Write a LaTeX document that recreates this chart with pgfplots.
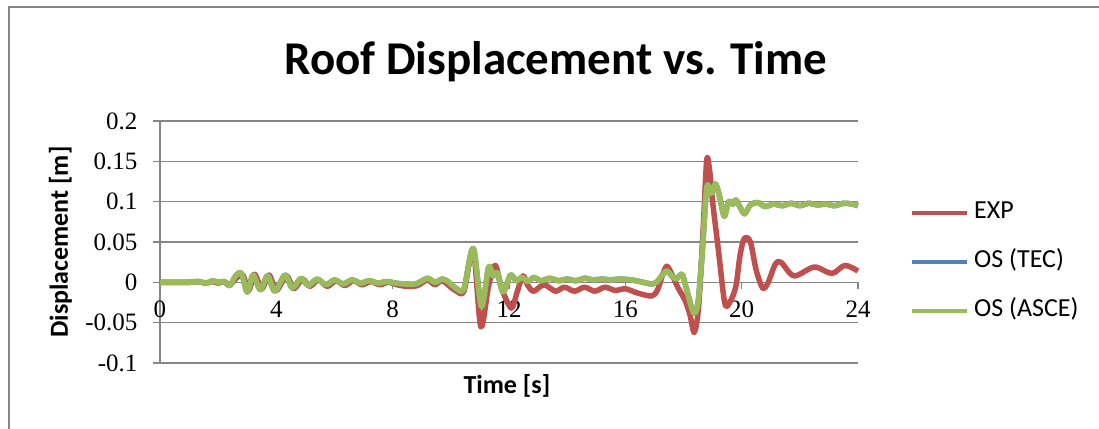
\documentclass[border=0pt]{standalone}
\usepackage{pgfplots}
\pgfplotsset{compat=1.18}
\usepackage{pgfplotstable}
\usepackage{fontspec}
\setmainfont{Carlito}
\newfontfamily\timesfont{Liberation Serif}
\definecolor{expc}{RGB}{192,80,77}
\definecolor{tecc}{RGB}{79,129,189}
\definecolor{ascec}{RGB}{155,187,89}
\definecolor{axisgray}{RGB}{134,134,134}

\pgfplotstableread{
t v
0 0
0.5 0
1.0 0
1.3 0.001
1.6 -0.001
1.8 0.001
2.0 -0.001
2.2 0.001
2.4 -0.003
2.65 0.006
2.85 0.009
3.05 -0.010
3.25 0.010
3.5 -0.008
3.75 0.009
4.0 -0.010
4.35 0.008
4.6 -0.008
4.9 0.004
5.15 -0.005
5.45 0.003
5.75 -0.005
6.05 0.002
6.35 -0.004
6.65 0.002
6.95 -0.003
7.25 0.001
7.55 -0.003
7.85 0.000
8.15 -0.003
8.5 -0.005
8.85 -0.004
9.2 0.003
9.45 -0.003
9.7 0.002
10.0 -0.006
10.2 -0.011
10.45 -0.011
10.77 0.040
11.03 -0.055
11.3 -0.004
11.53 0.021
11.75 -0.008
12.08 -0.032
12.28 -0.012
12.48 0.008
12.65 -0.004
12.85 -0.011
13.2 -0.003
13.6 -0.011
13.9 -0.006
14.25 -0.011
14.6 -0.006
14.95 -0.011
15.3 -0.006
15.65 -0.010
16.0 -0.008
16.4 -0.013
16.9 -0.017
17.1 -0.010
17.25 0.006
17.42 0.020
17.6 0.010
17.8 -0.006
18.05 -0.022
18.22 -0.040
18.37 -0.062
18.52 -0.030
18.68 0.070
18.8 0.152
18.9 0.138
19.0 0.100
19.2 0.040
19.42 -0.026
19.6 -0.024
19.8 -0.005
19.95 0.035
20.1 0.055
20.3 0.050
20.5 0.015
20.72 -0.007
20.9 -0.001
21.15 0.022
21.35 0.025
21.8 0.008
22.5 0.019
23.1 0.011
23.55 0.021
24.0 0.014
}\expdata

\pgfplotstableread{
t v
0 0
0.5 0
1.0 0
1.3 0.001
1.6 -0.001
1.8 0.002
2.0 0
2.2 0.001
2.4 -0.004
2.6 0.008
2.8 0.011
3.0 -0.012
3.2 0.009
3.45 -0.009
3.7 0.008
3.95 -0.011
4.3 0.009
4.55 -0.007
4.85 0.005
5.1 -0.004
5.4 0.004
5.7 -0.003
6.0 0.003
6.3 -0.002
6.6 0.003
6.9 -0.001
7.2 0.002
7.5 -0.001
7.8 0.001
8.1 -0.001
8.4 -0.002
8.8 -0.002
9.2 0.005
9.45 0.000
9.7 0.004
9.9 0.001
10.2 -0.008
10.45 -0.008
10.77 0.042
11.05 -0.030
11.3 0.019
11.45 0.008
11.6 0.012
11.8 -0.012
12.05 0.009
12.25 0.002
12.45 0.006
12.65 0.001
12.85 0.006
13.1 0.002
13.4 0.005
13.7 0.002
14.0 0.004
14.3 0.002
14.6 0.005
14.9 0.003
15.2 0.004
15.5 0.003
15.8 0.004
16.2 0.003
16.5 0.001
16.9 -0.002
17.1 0.001
17.4 0.014
17.6 0.008
17.75 0.004
17.95 0.010
18.1 -0.008
18.35 -0.038
18.5 -0.025
18.65 0.040
18.8 0.118
18.95 0.110
19.1 0.122
19.25 0.105
19.4 0.082
19.55 0.100
19.7 0.097
19.8 0.102
19.95 0.093
20.1 0.085
20.3 0.096
20.55 0.099
20.8 0.094
21.1 0.097
21.4 0.095
21.7 0.098
22.0 0.095
22.3 0.098
22.6 0.096
22.9 0.097
23.2 0.095
23.5 0.098
23.8 0.097
24.0 0.095
}\ascedata

\begin{document}
\begin{tikzpicture}
\useasboundingbox (0,0) rectangle (1099pt,428pt);
\fill[white] (0,0) rectangle (1099pt,428pt);
\draw[axisgray, line width=2pt] (1130pt,421pt) -- (9pt,421pt) -- (9pt,-30pt);
\begin{axis}[
  at={(160pt,65pt)}, anchor=south west,
  scale only axis, width=698pt, height=242pt,
  xmin=0, xmax=24, ymin=-0.1, ymax=0.2,
  axis x line=middle, axis y line=left,
  axis line style={-, draw=axisgray, line width=1.3pt},
  hide obscured x ticks=false, hide obscured y ticks=false,
  xtick={0,4,8,12,16,20,24},
  xticklabels={0,4,8,12,16,20,24},
  ytick={-0.1,-0.05,0,0.05,0.1,0.15,0.2},
  yticklabels={-0.1,-0.05,0,0.05,0.1,0.15,0.2},
  ymajorgrids,
  grid style={axisgray, line width=1.3pt},
  tick style={axisgray, line width=1.3pt},
  major tick length=7pt,
  tick align=outside,
  ticklabel style={font=\timesfont\fontsize{25}{25}\selectfont, text=black},
  xticklabel style={yshift=-8pt},
  yticklabel style={xshift=-12pt},
  clip=false,
  legend style={at={(1.0745,0.4174)}, anchor=west, draw=none, fill=none,
    inner sep=0pt, column sep=5pt, row sep=25pt,
    nodes={inner sep=0pt, text height=18pt, text depth=6pt},
    font=\fontsize{26}{26}\selectfont},
  legend cell align=left,
  legend image code/.code={\draw[#1, line width=4pt] (0pt,0pt) -- (55pt,0pt);},
]
\addplot[expc, line width=5.5pt, smooth, tension=0.5, line join=round] table {\expdata};
\addplot[tecc, line width=5.5pt, smooth, tension=0.5, line join=round] table {\ascedata};
\addplot[ascec, line width=5.5pt, smooth, tension=0.5, line join=round] table {\ascedata};
\legend{EXP, OS (TEC), OS (ASCE)}
\node[rotate=90, anchor=base, font=\bfseries\fontsize{26}{26}\selectfont] at (axis description cs:-0.1318,0.5) {Displacement [m]};
\node[anchor=base, font=\bfseries\fontsize{26}{26}\selectfont] at (axis description cs:0.497,-0.128) {Time [s]};
\end{axis}
\node[anchor=base, font=\bfseries\fontsize{47}{50}\selectfont] at (556pt,353pt) {Roof Displacement vs. Time};
\end{tikzpicture}
\end{document}
